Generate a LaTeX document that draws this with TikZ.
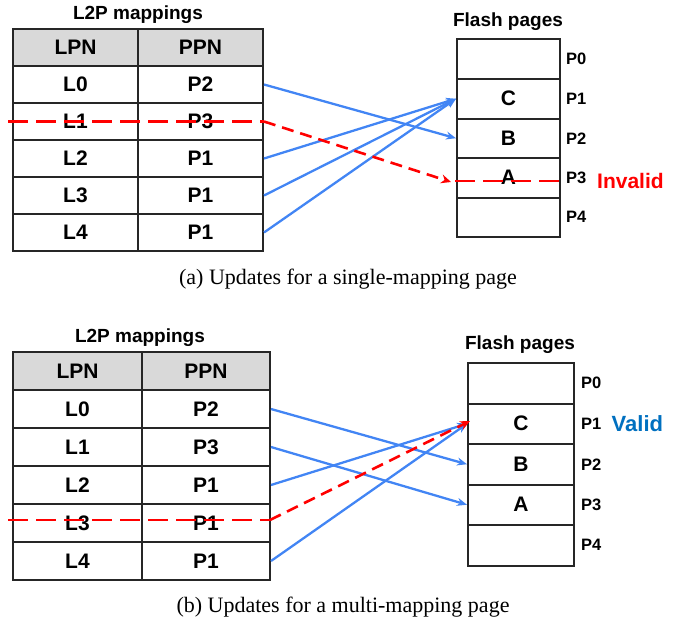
\documentclass[tikz,border=0pt]{standalone}
\usepackage{fontspec}
\setmainfont{Liberation Serif}
\setsansfont{Liberation Sans}
\usetikzlibrary{arrows.meta}

\definecolor{gridline}{RGB}{38,38,38}
\definecolor{headgray}{RGB}{217,217,217}
\definecolor{mapblue}{RGB}{66,133,244}
\definecolor{validblue}{RGB}{0,112,192}
\definecolor{stalered}{RGB}{255,0,0}

\tikzset{
  cell/.style={draw=gridline, line width=2pt, inner sep=0pt, anchor=center,
    font=\sffamily\bfseries\fontsize{21}{23}\selectfont},
  headcell/.style={cell, fill=headgray},
  pagecell/.style={cell},
  boxtitle/.style={font=\sffamily\bfseries\fontsize{19}{21}\selectfont},
  pagelabel/.style={anchor=west, inner sep=0pt, font=\sffamily\bfseries\fontsize{16.5}{19}\selectfont},
  statelabel/.style={anchor=west, inner sep=0pt, font=\sffamily\bfseries\fontsize{21}{23}\selectfont},
  maparrow/.style={draw=mapblue, line width=2.3pt, -{Stealth[length=10pt,width=8pt]}},
  staleline/.style={draw=stalered, line width=2.8pt, dash pattern=on 20pt off 8pt},
  stalearrow/.style={draw=stalered, line width=2.6pt, dash pattern=on 12pt off 7pt,
    -{Stealth[length=10pt,width=9pt]}},
  caption/.style={font=\rmfamily\fontsize{22}{24}\selectfont},
}

\begin{document}
\begin{tikzpicture}[x=1pt, y=-1pt]
\useasboundingbox (0,0) rectangle (684,623);

% ---------- (a) single-mapping page ----------
\node[boxtitle] (a-title) at (138,15) {L2P mappings};
\begin{scope}[every node/.append style={minimum height=37pt}]
  \node[headcell, minimum width=125pt] (a-lh) at (75.5,47.5) {LPN};
  \node[headcell, minimum width=125pt] (a-ph) at (200.5,47.5) {PPN};
  \foreach \i/\l/\p in {0/L0/P2,1/L1/P3,2/L2/P1,3/L3/P1,4/L4/P1} {
    \node[cell, minimum width=125pt] (a-l\i) at (75.5,84.5+37*\i) {\l};
    \node[cell, minimum width=125pt] (a-p\i) at (200.5,84.5+37*\i) {\p};
  }
\end{scope}

\node[boxtitle] (a-ftitle) at (508,22) {Flash pages};
\begin{scope}[every node/.append style={minimum height=39.5pt, minimum width=103pt}]
  \foreach \i/\t in {0/,1/C,2/B,3/A,4/} {
    \node[pagecell] (a-f\i) at (508.5,59.25+39.5*\i) {\t};
  }
\end{scope}
\foreach \i in {0,...,4} {
  \node[pagelabel] (a-n\i) at (566,59.25+39.5*\i) {P\i};
}
\node[statelabel, text=stalered] (a-state) at (597,181) {Invalid};

% current mappings
\draw[maparrow] (a-p0.east) -- (a-f2.west);
\draw[maparrow] (a-p2.east) -- (a-f1.west);
\draw[maparrow] (a-p3.east) -- (a-f1.west);
\draw[maparrow] (a-p4.east) -- (a-f1.west);

% stale mapping of L1 and the invalidated page
\coordinate (a-rs) at (8,121.5);
\coordinate (a-rt) at (451,182);
\coordinate (a-ia) at (455,181);
\coordinate (a-ib) at (564,181);
\draw[staleline] (a-rs) -- (a-p1.east);
\draw[stalearrow] (a-p1.east) -- (a-rt);
\draw[staleline] (a-ia) -- (a-ib);

\node[caption] (a-cap) at (348,279) {(a) Updates for a single-mapping page};

% ---------- (b) multi-mapping page ----------
\node[boxtitle] (b-title) at (140,338) {L2P mappings};
\begin{scope}[every node/.append style={minimum height=38pt}]
  \node[headcell, minimum width=129pt] (b-lh) at (77.5,371) {LPN};
  \node[headcell, minimum width=128pt] (b-ph) at (206,371) {PPN};
  \foreach \i/\l/\p in {0/L0/P2,1/L1/P3,2/L2/P1,3/L3/P1,4/L4/P1} {
    \node[cell, minimum width=129pt] (b-l\i) at (77.5,409+38*\i) {\l};
    \node[cell, minimum width=128pt] (b-p\i) at (206,409+38*\i) {\p};
  }
\end{scope}

\node[boxtitle] (b-ftitle) at (520,345) {Flash pages};
\begin{scope}[every node/.append style={minimum height=40.5pt, minimum width=106pt}]
  \foreach \i/\t in {0/,1/C,2/B,3/A,4/} {
    \node[pagecell] (b-f\i) at (521,383.25+40.5*\i) {\t};
  }
\end{scope}
\foreach \i in {0,...,4} {
  \node[pagelabel] (b-n\i) at (581,383.25+40.5*\i) {P\i};
}
\node[statelabel, text=validblue, font=\sffamily\bfseries\fontsize{22}{24}\selectfont] (b-state) at (611.5,424) {Valid};

% current mappings
\draw[maparrow] (b-p0.east) -- (b-f2.west);
\draw[maparrow] (b-p1.east) -- (b-f3.west);
\draw[maparrow] (b-p2.east) -- (b-f1.west);
\draw[maparrow] (b-p4.east) -- (b-f1.west);

% stale mapping of L3, the page itself stays valid
\coordinate (b-rs) at (8,520);
\coordinate (b-rm) at (270,520);
\coordinate (b-rt) at (470,421);
\draw[staleline] (b-rs) -- (b-rm);
\draw[stalearrow] (b-rm) -- (b-rt);

\node[caption] (b-cap) at (343,607) {(b) Updates for a multi-mapping page};
\end{tikzpicture}
\end{document}
